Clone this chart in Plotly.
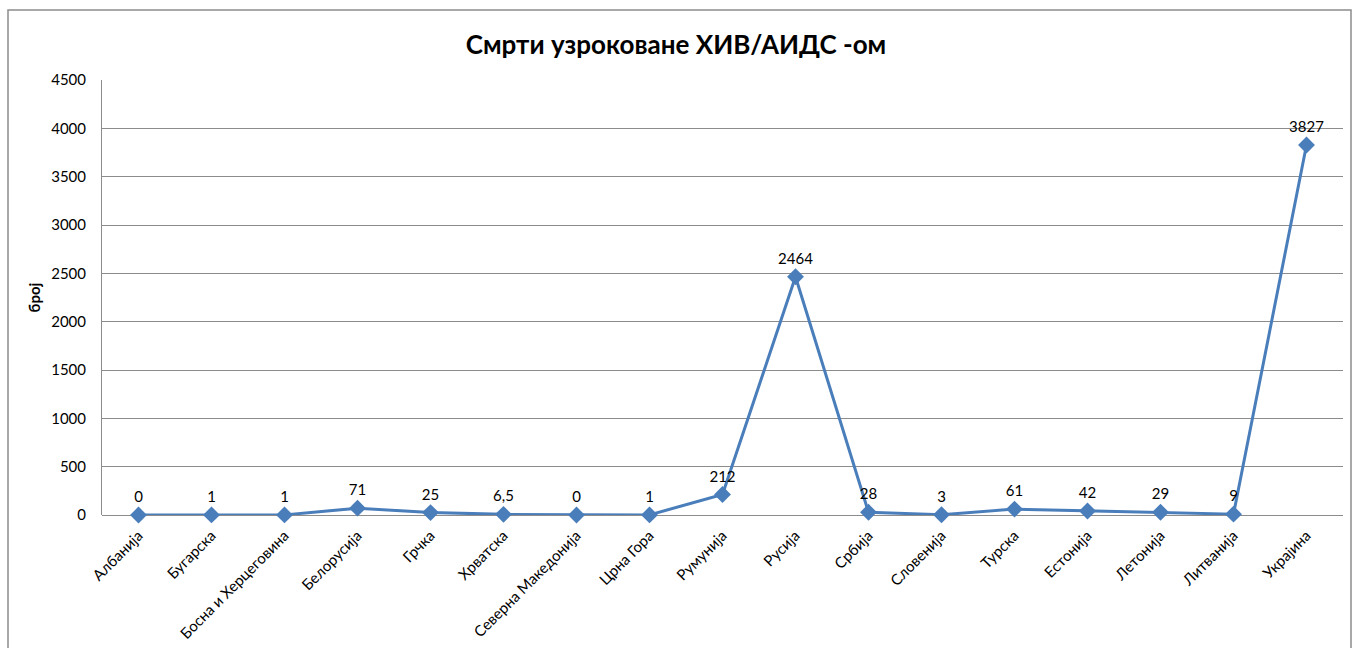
import plotly.graph_objects as go

countries = ["Албанија", "Бугарска", "Босна и Херцеговина", "Белорусија", "Грчка",
             "Хрватска", "Северна Македонија", "Црна Гора", "Румунија", "Русија",
             "Србија", "Словенија", "Турска", "Естонија", "Летонија", "Литванија",
             "Украјина"]
deaths = [0, 1, 1, 71, 25, 6.5, 0, 1, 212, 2464, 28, 3, 61, 42, 29, 9, 3827]
y_ticks = [0, 500, 1000, 1500, 2000, 2500, 3000, 3500, 4000, 4500]

labels = [f"{v:g}".replace(".", ",") for v in deaths]

FONT = "Lato, 'Open Sans', sans-serif"
BLUE = "#4A7EBB"

fig = go.Figure()
fig.add_trace(go.Scatter(
    x=list(range(len(countries))),
    y=deaths,
    mode="lines+markers+text",
    line=dict(color=BLUE, width=3),
    marker=dict(symbol="diamond", size=13, color=BLUE),
    text=labels,
    textposition="top center",
    textfont=dict(family=FONT, size=15, color="#000000"),
    cliponaxis=False,
    showlegend=False,
))

fig.update_layout(
    width=1352, height=648,
    paper_bgcolor="white", plot_bgcolor="white",
    margin=dict(l=102, r=9, t=80, b=133),
    title=dict(text="<b>Смрти узроковане ХИВ/АИДС -ом</b>",
               x=0.5, xanchor="center",
               y=1 - 45 / 648, yanchor="middle",
               font=dict(family=FONT, size=26, color="#000000")),
    xaxis=dict(
        range=[-0.5, len(countries) - 0.5],
        tickmode="array",
        tickvals=list(range(len(countries))),
        ticktext=countries,
        tickangle=-45,
        tickfont=dict(family=FONT, size=15, color="#000000"),
        ticklabelstandoff=8,
        automargin=False,
        showgrid=False, zeroline=False,
        showline=False, ticks="",
    ),
    yaxis=dict(
        range=[0, 4500],
        tickmode="array",
        tickvals=y_ticks,
        tickfont=dict(family=FONT, size=15, color="#000000"),
        ticklabelstandoff=12,
        automargin=False,
        showgrid=True, gridcolor="#8c8c8c", gridwidth=1,
        zeroline=True, zerolinecolor="#8c8c8c", zerolinewidth=1,
        showline=True, linecolor="#8c8c8c", linewidth=1,
        ticks="", ticklen=0,
        title=dict(text="<b>број</b>", standoff=6,
                   font=dict(family=FONT, size=15, color="#000000")),
    ),
    shapes=[dict(
        type="rect", xref="paper", yref="paper",
        x0=(8 - 102) / 1241, x1=(1351 - 102) / 1241,
        y0=-1, y1=1 + (80 - 10) / 435,
        line=dict(color="#8c8c8c", width=1.5), fillcolor="rgba(0,0,0,0)",
        layer="below",
    )],
)

fig.write_html("out.html")
